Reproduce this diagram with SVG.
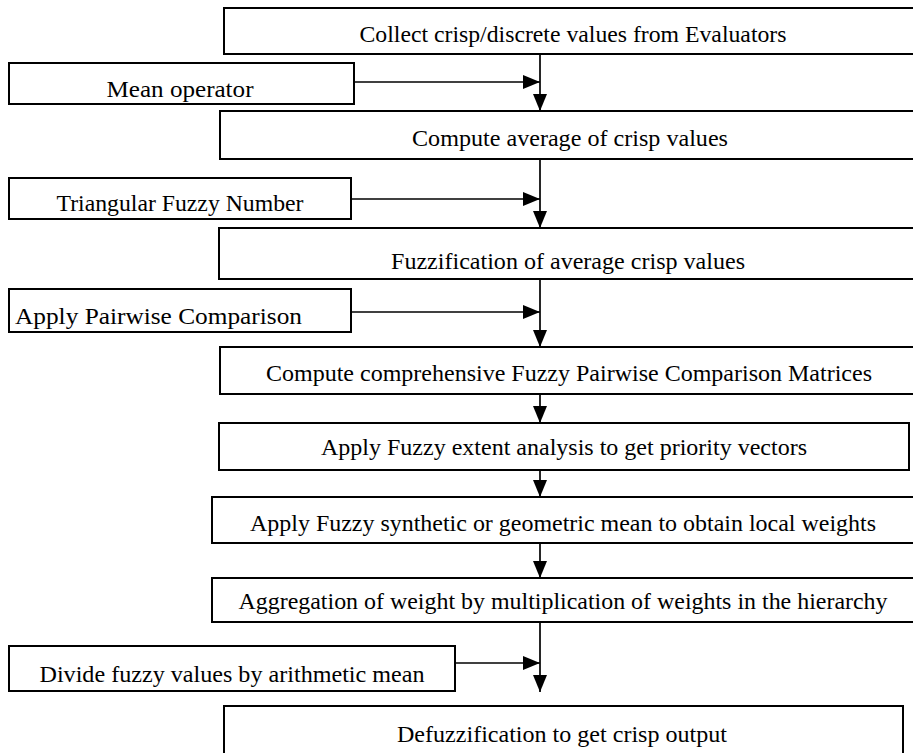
<svg xmlns="http://www.w3.org/2000/svg" width="913" height="753" viewBox="0 0 913 753">
<defs>
<style>
.box{fill:#fff;stroke:#000;stroke-width:2}
.t{font-family:"Liberation Serif","Times New Roman",serif;font-size:23px;fill:#000}
.c{text-anchor:middle}
.ln{stroke:#000;stroke-width:1.7;fill:none}
</style>
<marker id="ah" markerUnits="userSpaceOnUse" markerWidth="18" markerHeight="15" refX="17" refY="7" orient="auto">
<path d="M0,0 L17,7 L0,14 z" fill="#000"/>
</marker>
</defs>
<rect width="913" height="753" fill="#fff"/>
<g id="n1"><rect class="box" x="224" y="8" width="700" height="46"/><text class="t c" x="573" y="42" textLength="427" lengthAdjust="spacingAndGlyphs">Collect crisp/discrete values from Evaluators</text></g>
<g id="n_mean"><rect class="box" x="9" y="63" width="345" height="41"/><text class="t c" x="180" y="97" textLength="147" lengthAdjust="spacingAndGlyphs">Mean operator</text></g>
<g id="n2"><rect class="box" x="220" y="111" width="704" height="48"/><text class="t c" x="570" y="146" textLength="316" lengthAdjust="spacingAndGlyphs">Compute average of crisp values</text></g>
<g id="n_tfn"><rect class="box" x="9" y="178" width="342" height="41"/><text class="t c" x="180" y="211" textLength="247" lengthAdjust="spacingAndGlyphs">Triangular Fuzzy Number</text></g>
<g id="n3"><rect class="box" x="219" y="228" width="705" height="51"/><text class="t c" x="568" y="269" textLength="354" lengthAdjust="spacingAndGlyphs">Fuzzification of average crisp values</text></g>
<g id="n_pw"><rect class="box" x="9" y="289" width="342" height="43"/><text class="t" x="15" y="324" textLength="287" lengthAdjust="spacingAndGlyphs">Apply Pairwise Comparison</text></g>
<g id="n4"><rect class="box" x="220" y="347" width="704" height="47"/><text class="t c" x="569" y="381" textLength="606" lengthAdjust="spacingAndGlyphs">Compute comprehensive Fuzzy Pairwise Comparison Matrices</text></g>
<g id="n5"><rect class="box" x="219" y="423" width="690" height="47"/><text class="t c" x="564" y="455" textLength="486" lengthAdjust="spacingAndGlyphs">Apply Fuzzy extent analysis to get priority vectors</text></g>
<g id="n6"><rect class="box" x="212" y="497" width="712" height="46"/><text class="t c" x="563" y="531" textLength="626" lengthAdjust="spacingAndGlyphs">Apply Fuzzy synthetic or geometric mean to obtain local weights</text></g>
<g id="n7"><rect class="box" x="212" y="578" width="712" height="44"/><text class="t c" x="563" y="609" textLength="649" lengthAdjust="spacingAndGlyphs">Aggregation of weight by multiplication of weights in the hierarchy</text></g>
<g id="n_div"><rect class="box" x="9" y="646" width="446" height="45"/><text class="t c" x="232" y="682" textLength="385" lengthAdjust="spacingAndGlyphs">Divide fuzzy values by arithmetic mean</text></g>
<g id="n8"><rect class="box" x="224" y="706" width="679" height="60"/><text class="t c" x="562" y="742" textLength="330" lengthAdjust="spacingAndGlyphs">Defuzzification to get crisp output</text></g>
<g id="connectors">
<line class="ln" x1="540" y1="54" x2="540" y2="111" marker-end="url(#ah)"/>
<line class="ln" x1="354" y1="82" x2="540" y2="82" marker-end="url(#ah)"/>
<line class="ln" x1="540" y1="159" x2="540" y2="228" marker-end="url(#ah)"/>
<line class="ln" x1="351" y1="199" x2="540" y2="199" marker-end="url(#ah)"/>
<line class="ln" x1="540" y1="279" x2="540" y2="347" marker-end="url(#ah)"/>
<line class="ln" x1="351" y1="312" x2="540" y2="312" marker-end="url(#ah)"/>
<line class="ln" x1="540" y1="394" x2="540" y2="423" marker-end="url(#ah)"/>
<line class="ln" x1="540" y1="470" x2="540" y2="497" marker-end="url(#ah)"/>
<line class="ln" x1="540" y1="543" x2="540" y2="578" marker-end="url(#ah)"/>
<line class="ln" x1="540" y1="622" x2="540" y2="692" marker-end="url(#ah)"/>
<line class="ln" x1="455" y1="663" x2="540" y2="663" marker-end="url(#ah)"/>
</g>
</svg>
